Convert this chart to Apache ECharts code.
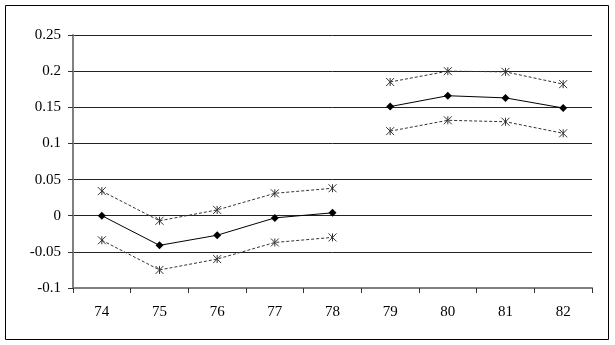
<!DOCTYPE html>
<html>
<head>
<meta charset="utf-8">
<script src="https://cdn.jsdelivr.net/npm/echarts@6/dist/echarts.min.js"></script>
<style>
  html, body { margin: 0; padding: 0; background: #fff; }
  #chart { width: 615px; height: 345px; }
</style>
</head>
<body>
<div id="chart"></div>
<script>
// 数据
var categories = ['74', '75', '76', '77', '78', '79', '80', '81', '82']
var meanValues = [0, -0.041, -0.027, -0.003, 0.004, 0.151, 0.166, 0.163, 0.149]
var upperValues = [0.034, -0.007, 0.008, 0.031, 0.038, 0.185, 0.200, 0.199, 0.182]
var lowerValues = [-0.034, -0.075, -0.060, -0.037, -0.030, 0.117, 0.132, 0.130, 0.114]
// 两段：74-78 与 79-82 之间断开
var segmentBreak = 5

var asterisk = 'path://M0,0L10,10M10,0L0,10M5,0L5,10'

function part (arr, first) {
  return arr.map(function (v, i) {
    return (first ? i < segmentBreak : i >= segmentBreak) ? v : '-'
  })
}

function meanSeries (data) {
  return {
    type: 'line',
    data: data,
    symbol: 'diamond',
    symbolSize: 8,
    lineStyle: { color: '#000', width: 1 },
    itemStyle: { color: '#000' },
    z: 3
  }
}

function boundSeries (data) {
  return {
    type: 'line',
    data: data,
    symbol: asterisk,
    symbolSize: 8,
    lineStyle: { color: '#333', width: 1, type: [3, 2] },
    itemStyle: { color: 'rgba(0,0,0,0)', borderColor: '#333', borderWidth: 1 },
    z: 2
  }
}

var myChart = echarts.init(document.getElementById('chart'))
myChart.setOption({
  animation: false,
  textStyle: { fontFamily: 'Liberation Serif' },
  grid: { left: 73, right: 23, top: 35, bottom: 57 },
  graphic: [
    {
      type: 'rect',
      shape: { x: 5.5, y: 5.5, width: 603, height: 334 },
      style: { fill: 'none', stroke: '#000', lineWidth: 1 },
      silent: true
    }
  ],
  // X轴
  xAxis: {
    type: 'category',
    data: categories,
    boundaryGap: true,
    axisLine: { onZero: false, lineStyle: { color: '#808080', width: 2 } },
    axisTick: { show: true, length: 5, lineStyle: { color: '#333' } },
    axisLabel: { color: '#000', fontSize: 15, margin: 17, fontFamily: 'Liberation Serif' },
    splitLine: { show: false }
  },
  // Y轴
  yAxis: {
    type: 'value',
    min: -0.1,
    max: 0.25,
    interval: 0.05,
    axisLine: { show: true, lineStyle: { color: '#808080', width: 2 } },
    axisTick: { show: true, length: 5, lineStyle: { color: '#333' } },
    axisLabel: {
      color: '#000',
      fontSize: 15,
      margin: 12,
      fontFamily: 'Liberation Serif',
      formatter: function (v) { return String(Math.round(v * 100) / 100) }
    },
    splitLine: { show: true, lineStyle: { color: '#222', width: 1 } }
  },
  series: [
    meanSeries(part(meanValues, true)),
    meanSeries(part(meanValues, false)),
    boundSeries(part(upperValues, true)),
    boundSeries(part(upperValues, false)),
    boundSeries(part(lowerValues, true)),
    boundSeries(part(lowerValues, false))
  ]
})
</script>
</body>
</html>
